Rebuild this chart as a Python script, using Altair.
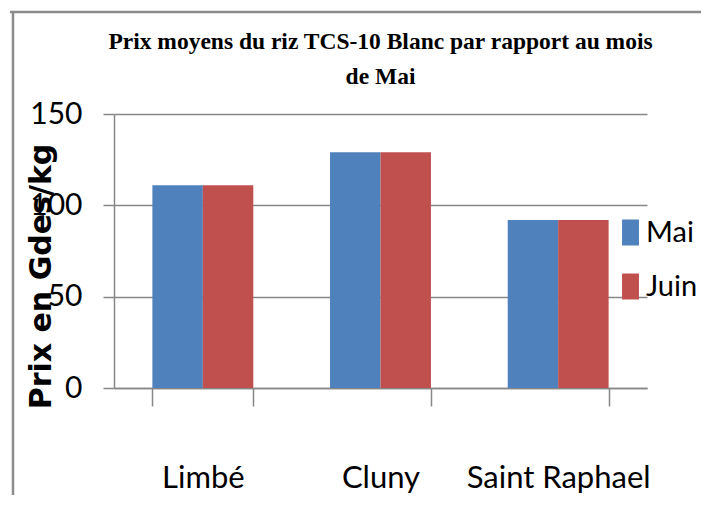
import altair as alt
import pandas as pd

cities = ["Limbé", "Cluny", "Saint Raphael"]
months = ["Mai", "Juin"]
mai = [111, 129, 92]
juin = [111, 129, 92]
colors = ["#4F81BD", "#C0504D"]
y_ticks = [0, 50, 100, 150]

rows = []
for c, m, j in zip(cities, mai, juin):
    rows.append({"Ville": c, "Mois": "Mai", "Prix": m})
    rows.append({"Ville": c, "Mois": "Juin", "Prix": j})
df = pd.DataFrame(rows)

FONT = "Lato"
GRAY = "#878787"

bars = alt.Chart(df).mark_bar().encode(
    x=alt.X(
        "Ville:N",
        sort=cities,
        scale=alt.Scale(paddingInner=0.432, paddingOuter=0.216),
        axis=alt.Axis(
            title=None,
            labelAngle=0,
            tickBand="extent",
            tickSize=18,
            tickColor=GRAY,
            tickWidth=1.5,
            domainColor=GRAY,
            domainWidth=1.5,
            labelFont=FONT,
            labelFontSize=31,
            labelColor="black",
            labelBaseline="alphabetic",
            labelPadding=81,
            labelOverlap=False,
            labelLimit=0,
        ),
    ),
    xOffset=alt.XOffset("Mois:N", sort=months, scale=alt.Scale(paddingInner=0, paddingOuter=0)),
    y=alt.Y(
        "Prix:Q",
        scale=alt.Scale(domain=[0, 150]),
        axis=alt.Axis(
            values=y_ticks,
            title="Prix en Gdes/kg",
            titleFont="DejaVu Sans",
            titleFontSize=30,
            titleFontWeight="bold",
            titleColor="black",
            titleAngle=270,
            titleX=-73,
            titleY=162,
            titleAlign="center",
            titleBaseline="middle",
            labelFont=FONT,
            labelFontSize=30,
            labelColor="black",
            labelPadding=21,
            labelOverlap=False,
            labelFlush=False,
            tickSize=11,
            tickColor=GRAY,
            tickWidth=1.5,
            domainColor=GRAY,
            domainWidth=1.5,
            grid=True,
            gridColor=GRAY,
            gridWidth=1.5,
        ),
    ),
    color=alt.Color(
        "Mois:N",
        sort=months,
        scale=alt.Scale(domain=months, range=colors),
        legend=alt.Legend(
            title=None,
            orient="none",
            legendX=502,
            legendY=104,
            padding=0,
            labelFont=FONT,
            labelFontSize=29,
            labelColor="black",
            labelOffset=1,
            labelLimit=0,
            rowPadding=24,
            symbolType="M-0.65,-1H0.65V1H-0.65Z",
            symbolSize=676,
            symbolStrokeWidth=0,
            symbolOpacity=1,
        ),
    ),
)

frame_df = pd.DataFrame({"k": [0]})
top_border = alt.Chart(frame_df).mark_rule(color="#8c8c8c", strokeWidth=2.5).encode(
    x=alt.value(-104), x2=alt.value(600), y=alt.value(-102)
)
left_border = alt.Chart(frame_df).mark_rule(color="#8c8c8c", strokeWidth=2.5).encode(
    x=alt.value(-101), y=alt.value(-102), y2=alt.value(400)
)

chart = alt.layer(bars, top_border, left_border).properties(
    width=533,
    height=274,
    autosize=alt.AutoSizeParams(type="none"),
    padding={"left": 106, "top": 106, "right": 54, "bottom": 107},
    title=alt.TitleParams(
        text=["Prix moyens du riz TCS-10 Blanc par rapport au mois", "de Mai"],
        font="Liberation Serif",
        fontSize=23.5,
        fontWeight="bold",
        lineHeight=35,
        anchor="middle",
        frame="group",
        offset=-78,
        color="black",
    ),
).configure(background="white").configure_view(strokeWidth=0)

chart.save("out.html", embed_options={"renderer": "svg", "actions": False})
